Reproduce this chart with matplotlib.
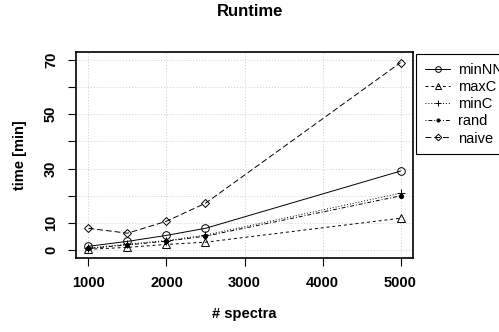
import matplotlib.pyplot as plt

plt.rcParams['font.family'] = ['Liberation Sans', 'DejaVu Sans']

n_spectra = [1000, 1500, 2000, 2500, 5000]
min_nn = [1.5, 3.3, 5.5, 8.1, 29.1]
max_c = [0.4, 1.1, 2.2, 3.0, 11.8]
min_c = [0.8, 2.3, 3.6, 5.6, 21.0]
rand = [0.7, 2.0, 3.4, 5.2, 20.0]
naive = [8.1, 6.3, 10.7, 17.3, 68.9]

series = [
    ("minNN", min_nn, "-", "o", "none"),
    ("maxC", max_c, (0, (3, 3)), "^", "none"),
    ("minC", min_c, (0, (1, 2)), "+", "none"),
    ("rand", rand, (0, (1, 2, 4, 2)), ".", "black"),
    ("naive", naive, (0, (6, 3)), "D", "none"),
]

fig = plt.figure(figsize=(4.99, 3.32), dpi=100)
ax = fig.add_axes([76 / 499, 1 - 258 / 332, 337 / 499, 206 / 332])

for name, vals, ls, mk, fc in series:
    ms = 5.5
    if mk == "D":
        ms = 4.5
    if mk == ".":
        ms = 6
    ax.plot(n_spectra, vals, color="black", linestyle=ls, linewidth=0.7,
            marker=mk, markersize=ms, markerfacecolor=fc,
            markeredgecolor="black", markeredgewidth=0.7, label=name)

ax.set_xlim(840, 5160)
ax.set_ylim(-2.8, 72.8)
ax.set_xticks([1000, 2000, 3000, 4000, 5000])
ax.set_yticks(range(0, 71, 10))
ax.set_yticklabels(["0", "10", "", "30", "", "50", "", "70"], rotation=90, va="center")
ax.grid(True, color="#cccccc", linestyle=(0, (1, 2)), linewidth=0.7)
ax.set_axisbelow(True)
for s in ax.spines.values():
    s.set_linewidth(1.2)
ax.tick_params(direction="out", length=6, width=0.8, labelsize=10.5, pad=7)
for lab in ax.get_xticklabels() + ax.get_yticklabels():
    lab.set_fontweight("bold")

ax.set_xlabel("# spectra", fontsize=10.5, fontweight="bold", labelpad=12)
ax.set_ylabel("time [min]", fontsize=10.5, fontweight="bold", labelpad=12)
fig.suptitle("Runtime", x=250 / 499, y=1 - 12 / 332, va="center",
             fontsize=12, fontweight="bold")

# legend sits outside the axes on the right, running off the figure edge
leg = fig.legend(loc="upper left", bbox_to_anchor=(416 / 499, 1 - 54 / 332),
                 fancybox=False, edgecolor="black", framealpha=1, fontsize=10.5,
                 handlelength=1.75, markerscale=0.75, borderaxespad=0,
                 labelspacing=0.22, borderpad=0.6, handletextpad=0.55)
leg.get_frame().set_linewidth(0.8)

fig.savefig("out.png", dpi=100)
